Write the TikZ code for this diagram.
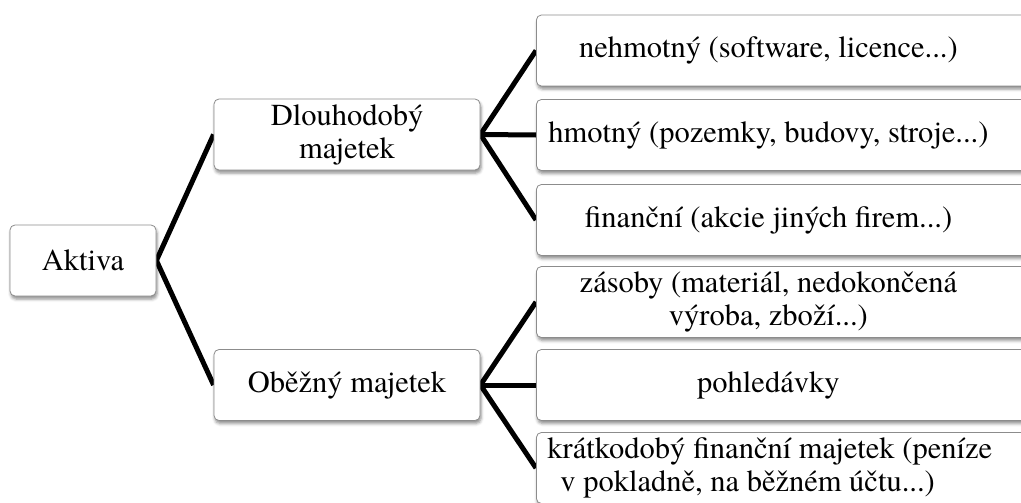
\documentclass[tikz,border=0pt]{standalone}
\usepackage{fontspec}
\setmainfont{TeX Gyre Termes}
\usetikzlibrary{shadows.blur,backgrounds}
\begin{document}
\begin{tikzpicture}[x=1pt,y=-1pt,
  boxbase/.style={draw=black!45, line width=0.8pt, fill=white, rounded corners=5pt,
    inner sep=0pt, minimum height=71pt, font=\rmfamily\fontsize{30.5}{33}\selectfont,
    blur shadow={shadow xshift=1pt, shadow yshift=-3pt, shadow blur radius=3pt, shadow opacity=45}},
  box/.style={boxbase, align=center},
  rbox/.style={boxbase, anchor=west},
  conn/.style={line width=5pt, line join=miter}]
\useasboundingbox (0,0) rectangle (1021,503);
\clip (0,0) rectangle (1021,503);

\node[box, minimum width=146pt] (akt) at (83,260.5) {Aktiva};
\node[box, minimum width=266pt] (dl) at (347,134.5) {Dlouhodobý\\majetek};
\node[box, minimum width=266pt] (ob) at (347,385) {Oběžný majetek};

\node[rbox] (n1) at (536,50.5) {\parbox{464pt}{\centering nehmotný (software, licence...)}\rule{60pt}{0pt}};
\node[rbox] (n2) at (536,135) {\parbox{464pt}{\centering hmotný (pozemky, budovy, stroje...)}\rule{60pt}{0pt}};
\node[rbox] (n3) at (536,220) {\parbox{464pt}{\centering finanční (akcie jiných firem...)}\rule{60pt}{0pt}};
\node[rbox] (n4) at (536,302) {\parbox{464pt}{\centering zásoby (materiál, nedokončená\\výroba, zboží...)}\rule{60pt}{0pt}};
\node[rbox] (n5) at (536,385) {\parbox{464pt}{\centering pohledávky}\rule{60pt}{0pt}};
\node[rbox] (n6) at (536,468) {\parbox{540pt}{\raggedright\hspace*{11pt}krátkodobý finanční majetek (peníze\\\hspace*{24pt}v pokladně, na běžném účtu...)}};

\begin{scope}[on background layer]
\draw[conn] (dl.west) -- (akt.east) -- (ob.west);
\draw[conn] (n1.west) -- (dl.east) -- (n3.west);
\draw[conn] (dl.east) -- (n2.west);
\draw[conn] (n4.west) -- (ob.east) -- (n6.west);
\draw[conn] (ob.east) -- (n5.west);
\end{scope}
\end{tikzpicture}
\end{document}
